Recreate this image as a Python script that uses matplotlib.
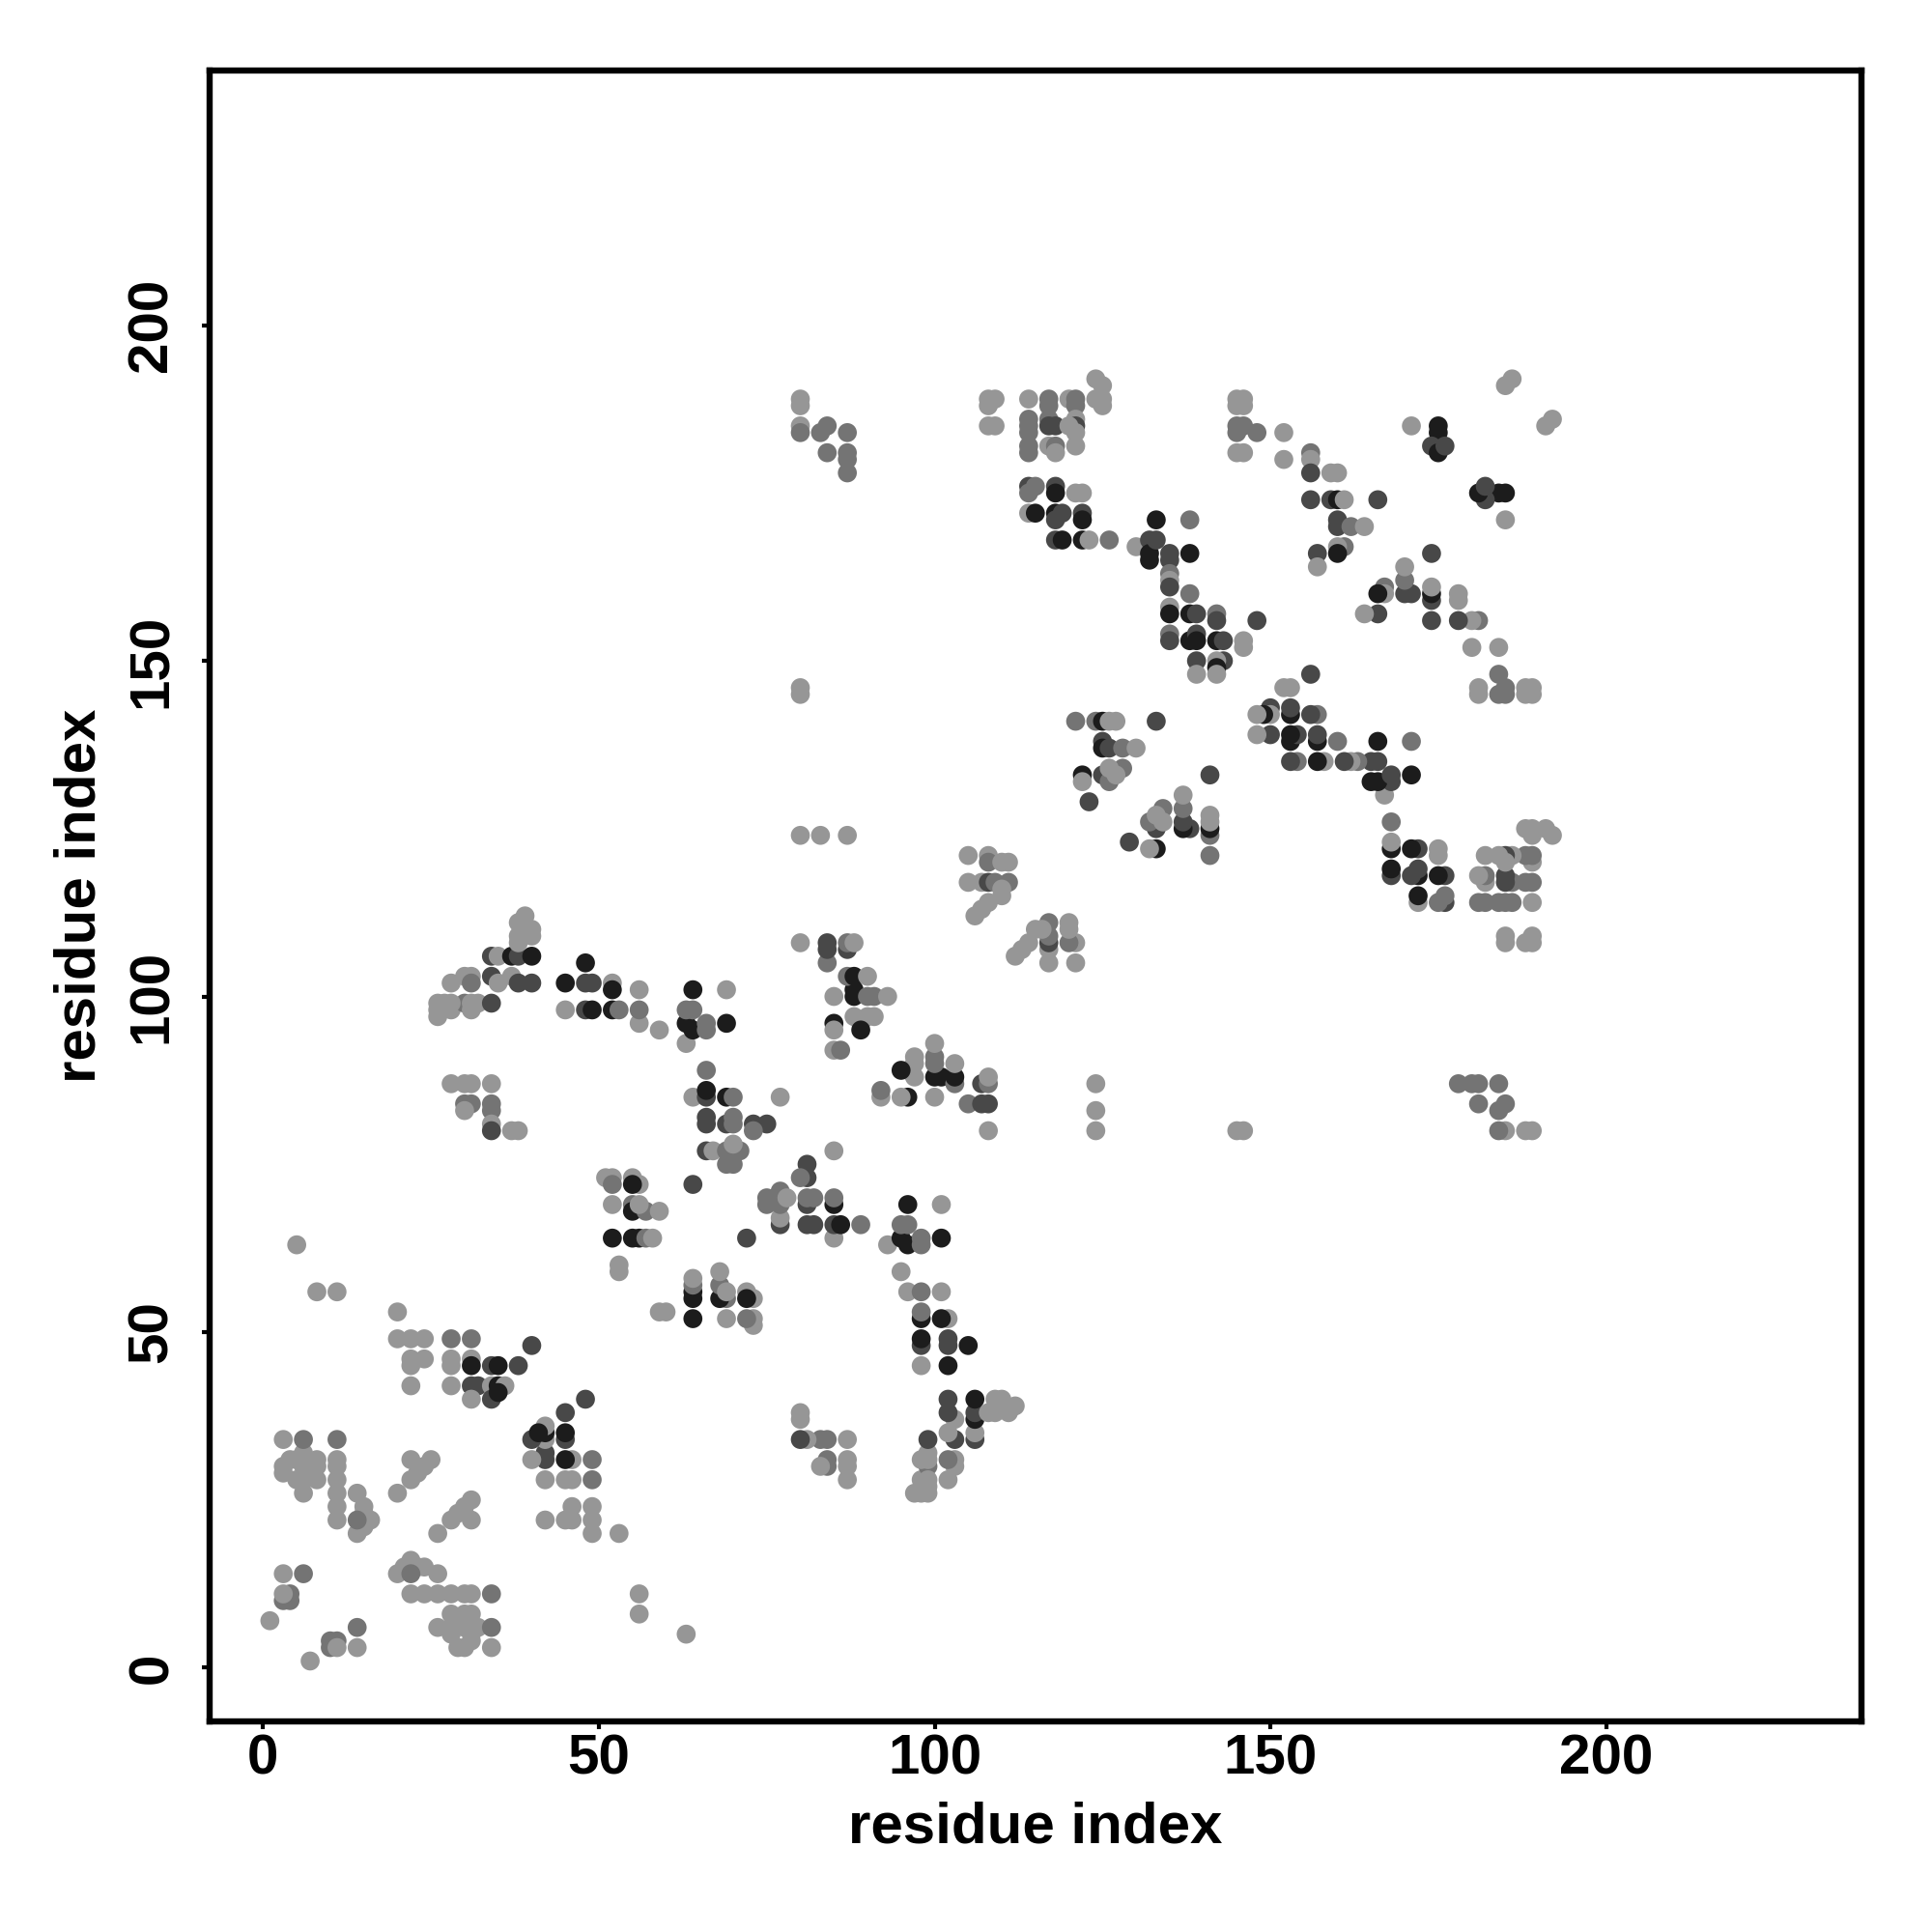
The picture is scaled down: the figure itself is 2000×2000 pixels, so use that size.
import matplotlib
matplotlib.use("Agg")
import matplotlib.pyplot as plt

# Contact map: upper-triangle contacts (residue i < residue j); the map is symmetric,
# every contact is drawn at (i, j) and (j, i).
# level: 1 = weak (light grey) ... 4 = strong (near black)

contact_i = [
    1, 3, 4, 4, 3, 3, 6,
    14, 15, 16, 15, 15, 14, 14,
    20, 22, 23, 24, 25, 22,
    11, 11, 11, 11, 11, 11, 11,
    8, 8, 8,
    6, 6, 6, 6, 6,
    3, 3, 3, 5, 5, 4,
    5, 8, 11, 20,
    20, 22, 24, 28, 31, 40,
    22, 24, 22, 28, 28, 31, 31, 34, 35, 38,
    22, 28, 31, 32, 34, 35, 36, 31, 34, 35,
    53, 53,
    52, 55, 56, 57, 58,
    52, 55, 55, 57, 59, 56,
    51, 52, 55, 56, 55, 52,
    64,
    66, 67, 69, 69, 70, 71, 70, 70,
    66, 66, 69, 70, 73, 75, 73, 70,
    64, 66, 66, 69, 70, 77,
    66, 63, 64, 63, 66, 64, 63, 64, 69, 69, 66,
    56, 59, 56, 56,
    45, 48, 49, 52, 53,
    45, 48, 49, 52, 52, 48,
    28, 30, 31, 34,
    30, 31, 30, 34, 34, 34, 34, 37, 38,
    26, 26, 26, 27, 28, 30, 31, 32, 34, 31, 28,
    28, 30, 31, 31,
    34, 35, 37, 38, 40,
    34, 35, 37, 38, 40,
    38, 38, 40, 40, 38, 39,
    85, 86,
    85, 85, 88, 89, 90, 91, 89,
    85, 88, 88, 90, 91, 93,
    87, 88, 90,
    84, 84, 84, 87, 87, 88, 80,
    80, 83, 87,
    105, 108, 108, 110, 111,
    105, 107, 108, 109, 111, 110, 110,
    108, 107, 106,
    122, 122, 125, 126, 128, 127, 126, 123,
    125, 125, 126, 128, 130,
    121, 124, 125, 126, 127, 133,
    80, 80,
    80, 80, 80, 80, 83, 84, 87, 84, 87, 87, 87,
    108, 109, 108, 108, 109,
    114, 117, 117, 120, 121, 121, 124, 125, 124, 125, 125,
    114, 114, 114, 117, 117, 118, 121, 121, 121, 120,
    114, 114, 117, 118, 118, 121,
    114, 115, 114, 118, 118, 121, 122,
    114, 115, 118, 118, 119, 122, 122,
    118, 119, 122, 123, 126,
    130, 133, 132, 132, 132, 133, 135, 135, 135, 138, 138,
    135, 135, 138, 135, 135, 138, 139, 142, 142, 148,
    135, 135, 138, 139, 139, 142, 143, 143, 142, 142, 146, 146,
    139, 139, 142,
    145, 146, 145, 146, 145, 146, 145, 148, 152, 145, 146, 152,
    156, 156, 156, 159, 160,
    156, 159, 160, 161, 166,
    160, 160, 162, 164, 161, 160, 160,
    157, 157,
    171, 175, 175, 174, 175, 176,
    185, 186,
]

contact_j = [
    7, 10, 10, 11, 11, 14, 14,
    20, 21, 22, 23, 24, 26, 22,
    26, 28, 29, 30, 31, 31,
    22, 24, 26, 28, 30, 31, 34,
    28, 30, 31,
    26, 28, 30, 32, 34,
    29, 30, 34, 28, 31, 31,
    63, 56, 56, 53,
    49, 49, 49, 49, 49, 48,
    46, 46, 45, 46, 45, 46, 45, 45, 45, 45,
    42, 42, 42, 42, 42, 42, 42, 40, 40, 41,
    60, 59,
    64, 64, 64, 64, 64,
    69, 69, 68, 68, 68, 69,
    73, 73, 73, 72, 72, 72,
    72,
    77, 77, 77, 75, 77, 77, 75, 78,
    81, 82, 81, 81, 81, 81, 80, 82,
    85, 85, 86, 85, 85, 85,
    89, 93, 95, 96, 96, 98, 98, 101, 96, 101, 95,
    96, 95, 98, 101,
    98, 98, 98, 98, 98,
    102, 102, 102, 102, 101, 105,
    87, 87, 87, 87,
    84, 84, 83, 84, 83, 81, 80, 80, 80,
    97, 98, 99, 99, 98, 99, 99, 99, 99, 98, 99,
    102, 103, 103, 102,
    103, 102, 103, 102, 102,
    106, 106, 106, 106, 106,
    108, 109, 109, 110, 111, 112,
    92, 92,
    96, 95, 97, 96, 97, 97, 95,
    100, 100, 101, 100, 100, 100,
    103, 103, 103,
    105, 107, 108, 107, 108, 108, 108,
    124, 124, 124,
    121, 121, 120, 120, 120,
    117, 117, 117, 117, 117, 116, 115,
    114, 113, 112,
    133, 132, 133, 132, 134, 133, 134, 129,
    138, 137, 137, 137, 137,
    141, 141, 141, 141, 141, 141,
    146, 145,
    189, 188, 185, 184, 184, 185, 184, 181, 181, 180, 178,
    189, 189, 188, 185, 185,
    189, 189, 188, 189, 189, 188, 192, 191, 189, 189, 188,
    186, 185, 184, 186, 185, 185, 186, 185, 184, 185,
    182, 181, 182, 182, 181, 182,
    176, 176, 175, 176, 175, 175, 175,
    172, 172, 172, 171, 172, 172, 171,
    168, 168, 168, 168, 168,
    167, 171, 168, 166, 165, 168, 166, 165, 163, 166, 171,
    162, 161, 160, 158, 157, 157, 157, 157, 156, 156,
    154, 153, 153, 154, 153, 153, 153, 150, 150, 149, 153, 152,
    150, 148, 148,
    189, 189, 188, 188, 185, 185, 184, 184, 184, 181, 181, 180,
    181, 180, 178, 178, 178,
    174, 174, 174, 174, 174,
    171, 170, 170, 170, 167, 167, 166,
    166, 164,
    185, 185, 184, 182, 181, 182,
    191, 192,
]

contact_level = [
    1, 2, 2, 2, 1, 1, 2,
    1, 1, 1, 1, 1, 1, 2,
    1, 1, 1, 1, 1, 1,
    1, 1, 1, 1, 1, 1, 2,
    1, 1, 1,
    1, 1, 1, 1, 2,
    1, 1, 1, 1, 1, 1,
    1, 1, 1, 1,
    1, 1, 1, 2, 2, 3,
    1, 1, 1, 1, 1, 1, 4, 3, 4, 3,
    1, 1, 3, 3, 1, 4, 1, 1, 3, 4,
    1, 1,
    4, 4, 4, 2, 1,
    1, 2, 4, 2, 1, 1,
    1, 1, 1, 1, 4, 2,
    3,
    3, 1, 2, 2, 2, 2, 2, 1,
    3, 3, 3, 2, 3, 3, 2, 2,
    1, 3, 4, 4, 2, 1,
    2, 1, 4, 4, 2, 2, 2, 4, 4, 1, 2,
    1, 1, 2, 1,
    1, 3, 4, 4, 2,
    4, 3, 3, 1, 4, 4,
    1, 1, 1, 1,
    2, 2, 1, 2, 2, 1, 3, 1, 1,
    1, 1, 1, 1, 1, 2, 1, 1, 3, 1, 1,
    1, 1, 1, 2,
    3, 1, 1, 3, 3,
    3, 1, 4, 3, 4,
    1, 1, 1, 1, 1, 1,
    1, 2,
    4, 1, 1, 1, 1, 1, 4,
    1, 4, 4, 2, 2, 1,
    2, 4, 1,
    2, 3, 3, 3, 2, 1, 1,
    1, 1, 1,
    1, 1, 2, 1, 1,
    1, 1, 3, 2, 2, 1, 1,
    1, 1, 1,
    4, 1, 3, 2, 2, 1, 1, 3,
    3, 4, 3, 2, 1,
    2, 2, 4, 1, 1, 3,
    1, 1,
    1, 1, 1, 2, 2, 2, 2, 2, 2, 2, 2,
    1, 1, 1, 1, 1,
    1, 2, 2, 1, 2, 2, 1, 1, 1, 1, 1,
    2, 2, 2, 2, 3, 3, 1, 3, 1, 1,
    2, 2, 1, 2, 1, 1,
    3, 2, 2, 3, 4, 1, 1,
    1, 4, 4, 3, 3, 3, 4,
    3, 4, 4, 1, 2,
    1, 4, 3, 4, 4, 3, 3, 3, 2, 4, 2,
    1, 3, 2, 1, 4, 4, 3, 2, 3, 3,
    2, 3, 4, 3, 4, 4, 3, 3, 1, 4, 1, 1,
    3, 1, 1,
    1, 1, 1, 1, 2, 2, 2, 2, 1, 1, 1, 1,
    2, 1, 3, 1, 1,
    3, 3, 4, 1, 3,
    3, 3, 2, 1, 2, 1, 4,
    3, 1,
    1, 4, 4, 3, 4, 3,
    1, 1,
]

level_grey = {1: "#969696", 2: "#747474", 3: "#484848", 4: "#1c1c1c"}
tick_values = [0, 50, 100, 150, 200]
axis_title = "residue index"

plt.rcParams["font.family"] = ["Liberation Sans", "DejaVu Sans"]
plt.rcParams["font.weight"] = "bold"

fig = plt.figure(figsize=(10, 10), dpi=200)
ax = fig.add_axes([0.1084, 0.109, 0.855, 0.8547])

xs = list(contact_i) + list(contact_j)
ys = list(contact_j) + list(contact_i)
cols = [level_grey[l] for l in contact_level] * 2
ax.scatter(xs, ys, s=50, c=cols, linewidths=0, zorder=2)

ax.set_xlim(-8, 238)
ax.set_ylim(-8, 238)
ax.set_xticks(tick_values)
ax.set_yticks(tick_values)
ax.set_xticklabels([str(v) for v in tick_values])
ax.set_yticklabels([str(v) for v in tick_values], rotation=90, va="center")

for sp in ax.spines.values():
    sp.set_linewidth(2.3)
    sp.set_color("black")

ax.tick_params(axis="both", direction="out", length=3.0, width=1.5,
               labelsize=21, colors="black")
ax.tick_params(axis="x", pad=1.5)
ax.tick_params(axis="y", pad=8.5)
for lab in ax.get_xticklabels() + ax.get_yticklabels():
    lab.set_fontweight("bold")

ax.set_xlabel(axis_title, fontsize=21.6, fontweight="bold", va="center")
ax.set_ylabel(axis_title, fontsize=21.6, fontweight="bold", va="center")
ax.xaxis.set_label_coords(0.5, -0.0644)
ax.yaxis.set_label_coords(-0.0782, 0.5)

fig.savefig("out.png", dpi=200, facecolor="white")
